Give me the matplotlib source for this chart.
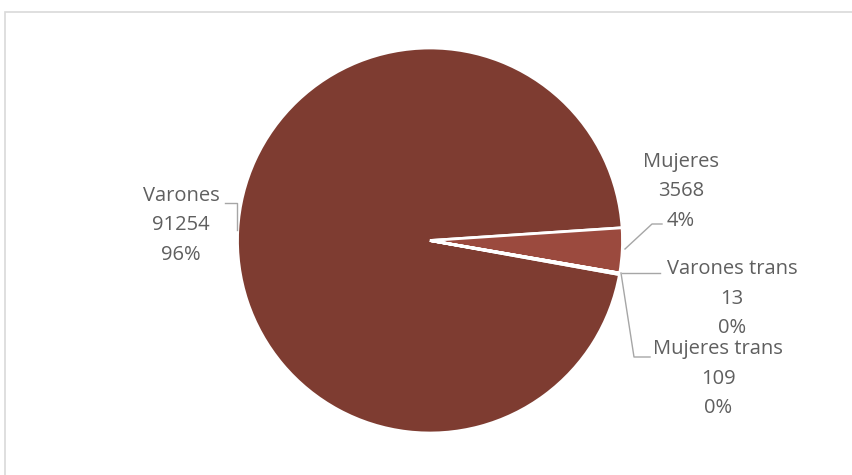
import matplotlib.pyplot as plt
from matplotlib.patches import Rectangle

# data
categorias = ["Varones", "Mujeres", "Varones trans", "Mujeres trans"]
valores = [91254, 3568, 13, 109]
porcentajes = ["96%", "4%", "0%", "0%"]
colores = ["#7e3c31", "#9b4a3e", "#a85a4c", "#8c4236"]

W, H = 853, 475
fig = plt.figure(figsize=(W / 100, H / 100), dpi=100)
ax = fig.add_axes([0, 0, 1, 1])

def py(y):
    # image pixel row -> data y
    return H - y

ax.pie(valores, colors=colores, startangle=-10.2, counterclock=False,
       center=(430, py(240.5)), radius=192.5,
       wedgeprops=dict(edgecolor="white", linewidth=2.0))
ax.set_xlim(0, W)
ax.set_ylim(0, H)
ax.set_aspect("auto")
ax.axis("off")

# chart border
ax.add_patch(Rectangle((5, py(485)), 860, 473, fill=False,
                       edgecolor="#d9d9d9", linewidth=1.2))

# label positions (center x, first line y) in px
pos = [(181, 196), (681, 162), (732, 269), (718, 349)]
dy = 29.5
txt = dict(family=["Open Sans", "DejaVu Sans"], fontsize=14.5,
           color="#5f5f5f", ha="center", va="center")
for cat, val, pct, (x, y) in zip(categorias, valores, porcentajes, pos):
    for i, s in enumerate([cat, str(val), pct]):
        ax.text(x, py(y + i * dy), s, **txt)

# leader lines
guias = [
    [(225, 203), (237, 203), (237, 230)],
    [(625, 249), (652, 224), (662, 224)],
    [(622, 273), (660, 273)],
    [(621, 273), (634, 357), (650, 357)],
]
for g in guias:
    ax.plot([p[0] for p in g], [py(p[1]) for p in g],
            color="#a6a6a6", linewidth=1.0)

fig.savefig("out.png", dpi=100)
